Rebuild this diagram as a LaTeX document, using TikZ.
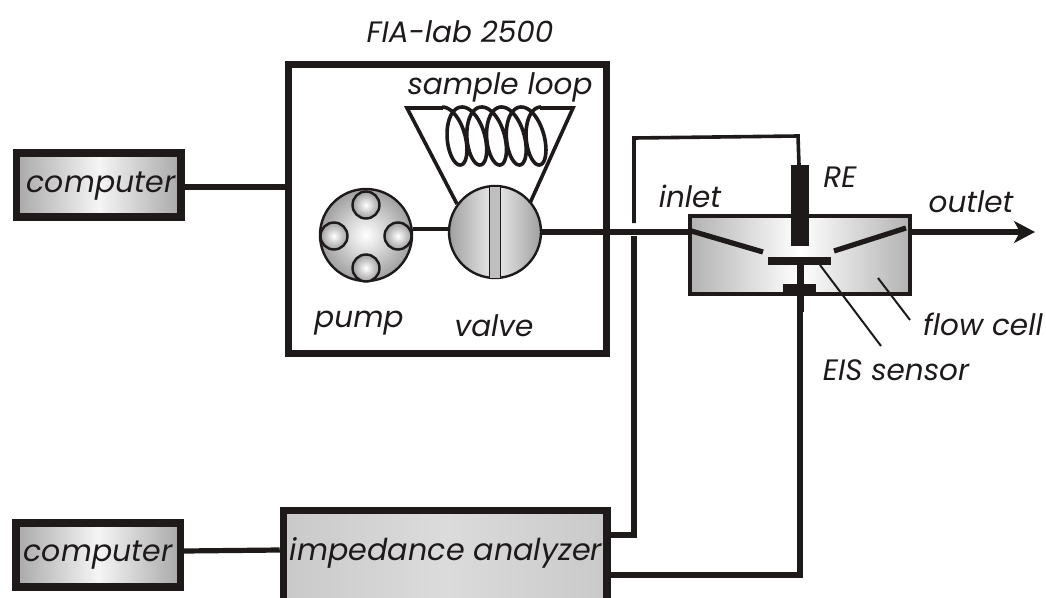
\documentclass[tikz,border=0pt]{standalone}
\usepackage{fontspec}
\setmainfont{Poppins}
\usetikzlibrary{arrows.meta}
\definecolor{ink}{RGB}{30,26,26}
\tikzset{
  wire/.style={draw=ink,line width=5.2pt},
  thin wire/.style={draw=ink,line width=3.6pt},
  leader/.style={draw=ink,line width=2pt},
  label/.style={font=\fontsize{29.5}{31}\selectfont\itshape,text=ink,inner sep=0pt},
  compbox/.style={draw=ink,line width=7.5pt,left color=gray!68,right color=gray!68,middle color=gray!8,minimum width=164.5pt,minimum height=64pt,inner sep=0pt},
  ball/.style={circle,draw=ink,line width=2.4pt,inner sep=0pt},
}
\begin{document}
\begin{tikzpicture}[x=1pt,y=-1pt]
\useasboundingbox (0,0) rectangle (1046,597);
\clip (0,0) rectangle (1046,597);
% boxes
\node[compbox] (comp1) at (98.8,185) {};
\node[compbox] (comp2) at (98,555) {};
\node[draw=ink,line width=7pt,fill=white,minimum width=318pt,minimum height=289pt,inner sep=0pt] (fia) at (447.5,208.5) {};
\node[draw=ink,line width=7.5pt,left color=gray!42,right color=gray!42,middle color=gray!28,minimum width=323.5pt,minimum height=100pt,inner sep=0pt] (ana) at (445.25,560.5) {};
% flow cell
\node[draw=ink,line width=4.5pt,left color=gray!60,right color=gray!60,middle color=white,minimum width=220pt,minimum height=78pt,inner sep=0pt] (cell) at (800,255) {};
% pump and valve
\node[ball,minimum size=92pt,inner color=white,outer color=gray!75] (pump) at (366,235) {};
\foreach \n/\a/\b in {pt/366/205,pl/334/236,pr/398/236,pb/366/268}
  \node[ball,minimum size=27pt,inner color=white,outer color=gray!75] (\n) at (\a,\b) {};
\node[ball,minimum size=92pt,left color=gray!75,right color=gray!75,middle color=gray!15] (valve) at (495,232) {};
\node[draw=ink,line width=.8pt,fill=gray!50,minimum width=11pt,minimum height=92pt,inner sep=0pt] (strip) at (495,232) {};
% sample loop
\coordinate (sl) at (407,108);
\coordinate (sr) at (573,108);
\coordinate (vl) at (457,204);
\coordinate (vr) at (530,203);
\draw[thin wire,line join=miter] (vl) -- (sl) -- (443,108);
\draw[thin wire,line join=miter] (vr) -- (sr) -- (540,108);
\draw[thin wire,domain=-360:1440,samples=300,smooth,variable=\u]
  plot ({466+\u/360*19.75+14*sin(\u)-4*cos(\u)},{136-29*cos(\u)});
% connectors
\coordinate (cl) at (289,187);
\draw[wire] (comp1.east |- cl) -- (cl);
\draw[wire] (comp2.east |- 0,551) -- (ana.west |- 0,550);
\draw[thin wire] (pump.east |- 0,229) -- (valve.west |- 0,229);
\coordinate (gapup) at (634,223);
\coordinate (gapdn) at (634,236);
\coordinate (rew) at (799,165);
\draw[thin wire] (rew) -- (798,136) -- (634,138) -- (gapup);
\draw[wire] (gapdn) -- (634,535) -- (ana.east |- 0,535);
\draw[wire] (ana.east |- 0,575) -- (800,575) -- (800,312);
\draw[wire] (valve.east) -- (691,232);
\coordinate (inA) at (688,230);
\coordinate (inB) at (763,252);
\coordinate (outA) at (834,251);
\coordinate (outB) at (906,228);
\draw[wire] (inA) -- (inB);
\draw[wire] (outA) -- (outB);
\coordinate (tip) at (1035,232);
\draw[wire,-{Stealth[length=21pt,width=22pt,inset=6pt]}] (cell.east |- tip) -- (tip);
% RE and sensor
\node[fill=ink,minimum width=18pt,minimum height=81pt,inner sep=0pt] (re) at (800,205.5) {};
\node[fill=ink,minimum width=63pt,minimum height=8pt,inner sep=0pt] (sensor) at (799.5,261) {};
\node[fill=ink,minimum width=33pt,minimum height=8pt,inner sep=0pt] (pad) at (799.5,288) {};
\draw[line width=7pt,draw=ink] (sensor.south -| 800,0) -- (800,312);
% leaders
\coordinate (l1a) at (820,265); \coordinate (l1b) at (881,346);
\coordinate (l2a) at (878,278); \coordinate (l2b) at (910,320);
\draw[leader] (l1a) -- (l1b);
\draw[leader] (l2a) -- (l2b);
% labels
\node[label] (t1) at (460,32) {FIA-lab 2500};
\node[label] (t2) at (500,87) {sample loop};
\node[label] (t3) at (359,323) {pump};
\node[label] (t4) at (494,326) {valve};
\node[label] (t5) at (690,196) {inlet};
\node[label] (t6) at (840,177) {RE};
\node[label] (t7) at (971,202) {outlet};
\node[label] (t8) at (983,324) {flow cell};
\node[label] (t9) at (896,370) {EIS sensor};
\node[label,font=\fontsize{30}{32}\selectfont\itshape] (t10) at (101,186) {computer};
\node[label,font=\fontsize{30}{32}\selectfont\itshape] (t11) at (98,555) {computer};
\node[label,font=\fontsize{30.2}{32}\selectfont\itshape] (t12) at (446,553) {impedance analyzer};
\end{tikzpicture}
\end{document}
